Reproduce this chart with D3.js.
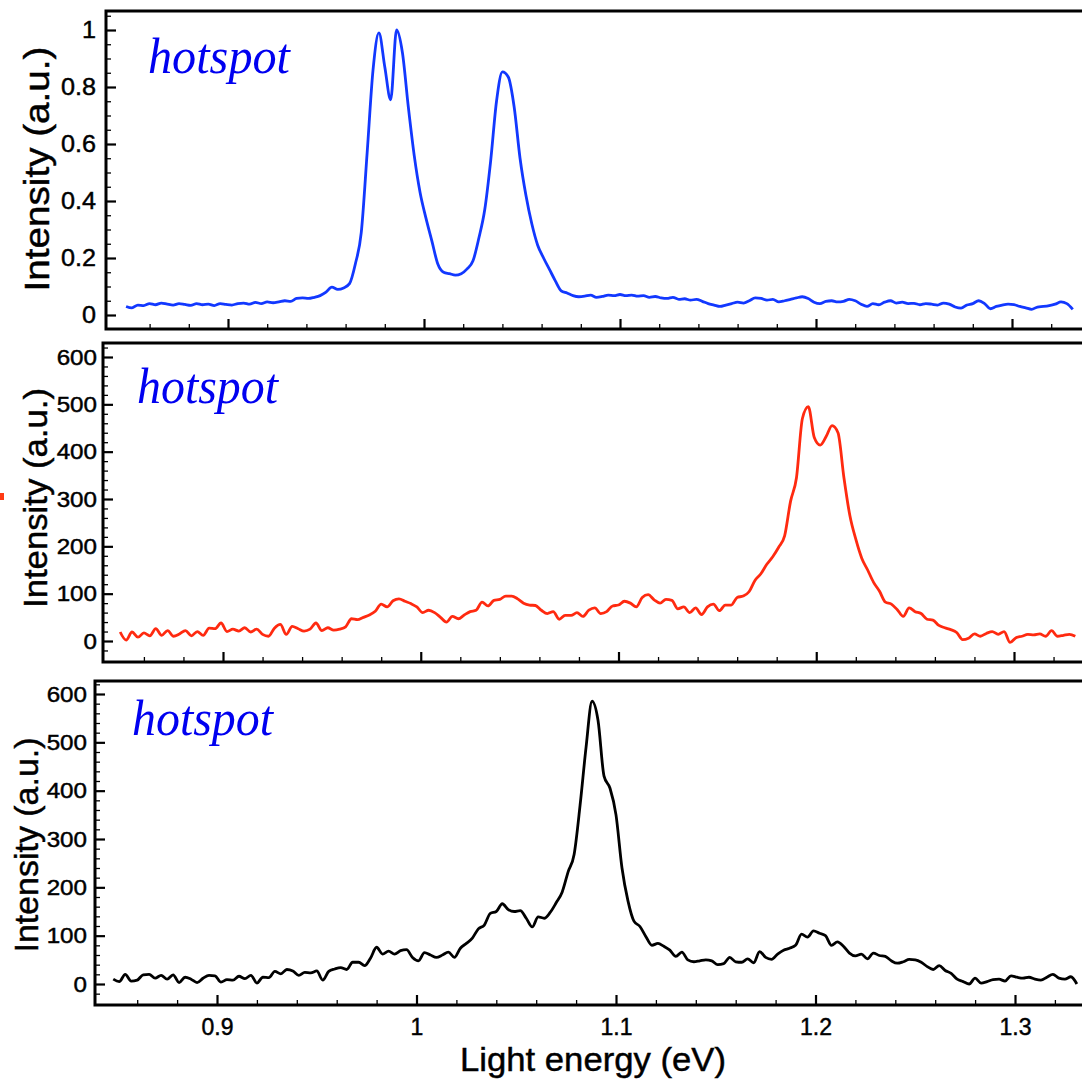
<!DOCTYPE html>
<html><head><meta charset="utf-8">
<script src="https://cdn.jsdelivr.net/npm/d3@7"></script>
<style>
body{margin:0;background:#fff}
svg{display:block}
text{font-family:"Liberation Sans",Arial,Helvetica,sans-serif;fill:#000}
</style>
</head><body>
<svg id="chart" width="1082" height="1080"></svg>
<script>
// ---------- DATA ----------
const energy = [
0.848,0.851,0.854,0.857,0.860,0.863,0.866,0.869,0.872,0.875,
0.878,0.881,0.884,0.887,0.890,0.893,0.896,0.899,0.902,0.905,
0.908,0.911,0.914,0.917,0.920,0.923,0.926,0.929,0.932,0.935,
0.938,0.941,0.944,0.947,0.950,0.953,0.956,0.959,0.962,0.965,
0.968,0.971,0.974,0.977,0.980,0.983,0.986,0.989,0.992,0.995,
0.998,1.001,1.004,1.007,1.010,1.013,1.016,1.019,1.022,1.025,
1.028,1.031,1.034,1.037,1.040,1.043,1.046,1.049,1.052,1.055,
1.058,1.061,1.064,1.067,1.070,1.073,1.076,1.079,1.082,1.085,
1.088,1.091,1.094,1.097,1.100,1.103,1.106,1.109,1.112,1.115,
1.118,1.121,1.124,1.127,1.130,1.133,1.136,1.139,1.142,1.145,
1.148,1.151,1.154,1.157,1.160,1.163,1.166,1.169,1.172,1.175,
1.178,1.181,1.184,1.187,1.190,1.193,1.196,1.199,1.202,1.205,
1.208,1.211,1.214,1.217,1.220,1.223,1.226,1.229,1.232,1.235,
1.238,1.241,1.244,1.247,1.250,1.253,1.256,1.259,1.262,1.265,
1.268,1.271,1.274,1.277,1.280,1.283,1.286,1.289,1.292,1.295,
1.298,1.301,1.304,1.307,1.310,1.313,1.316,1.319,1.322,1.325,
1.328,1.331];

// top panel (normalised)
const blueHotspot = [
0.030,0.025,0.035,0.033,0.040,0.036,0.042,0.038,0.035,0.040,
0.037,0.034,0.040,0.036,0.038,0.033,0.040,0.037,0.035,0.040,
0.042,0.038,0.044,0.040,0.046,0.043,0.046,0.050,0.048,0.058,
0.060,0.058,0.062,0.068,0.080,0.098,0.090,0.095,0.110,0.180,
0.290,0.570,0.860,0.990,0.870,0.755,1.000,0.920,0.730,0.560,
0.430,0.340,0.260,0.180,0.150,0.145,0.140,0.145,0.162,0.190,
0.270,0.370,0.540,0.750,0.853,0.835,0.730,0.550,0.420,0.320,
0.245,0.200,0.160,0.120,0.085,0.077,0.068,0.064,0.066,0.070,
0.062,0.065,0.070,0.068,0.072,0.068,0.070,0.066,0.068,0.062,
0.065,0.060,0.058,0.062,0.055,0.057,0.052,0.055,0.048,0.040,
0.035,0.030,0.035,0.040,0.045,0.042,0.050,0.060,0.058,0.052,
0.055,0.046,0.050,0.055,0.060,0.064,0.058,0.045,0.040,0.048,
0.050,0.046,0.048,0.055,0.050,0.038,0.030,0.040,0.036,0.045,
0.050,0.042,0.045,0.040,0.041,0.036,0.040,0.038,0.035,0.042,
0.038,0.028,0.024,0.035,0.040,0.050,0.040,0.022,0.030,0.035,
0.038,0.036,0.030,0.025,0.020,0.028,0.030,0.033,0.038,0.046,
0.040,0.020];

// middle panel (counts)
const redHotspot = [
19,2,19,8,17,11,26,12,22,10,
15,22,11,20,12,27,26,38,20,25,
21,28,19,25,14,10,27,35,14,31,
26,21,25,38,22,28,23,25,30,47,
45,50,55,63,78,72,85,89,84,79,
72,60,65,60,50,40,52,47,55,62,
65,82,74,86,88,95,95,89,80,76,
75,65,58,62,46,54,54,60,52,65,
70,58,62,74,76,84,80,72,92,98,
87,80,88,86,68,72,60,70,56,72,
78,64,76,76,92,95,104,128,142,162,
178,198,222,295,345,470,495,430,414,432,
455,440,345,265,215,175,150,124,105,82,
78,66,52,70,62,58,46,44,33,28,
24,18,3,6,15,10,16,20,14,20,
-3,7,10,14,13,15,10,22,10,12,
14,10];

// bottom panel (counts)
const blackHotspot = [
10,5,20,6,8,19,20,12,18,10,
19,3,14,10,3,12,18,17,4,9,
8,16,11,18,2,14,13,26,21,30,
27,18,24,23,27,8,26,31,34,30,
45,45,38,54,76,62,68,62,69,71,
55,48,65,60,55,60,66,55,74,84,
95,114,122,146,150,166,154,150,152,136,
118,139,136,148,168,190,232,268,370,490,
585,545,430,405,350,240,172,130,119,98,
80,84,78,70,57,66,50,46,48,50,
48,40,42,55,46,45,52,44,67,55,
51,62,70,74,80,103,97,110,105,100,
80,87,78,64,58,62,52,64,59,57,
48,43,46,51,50,45,36,30,38,28,
22,10,5,0,12,2,5,9,10,6,
17,14,12,14,10,8,14,20,12,10,
15,0];

// ticks and labels
const xMajorTicks = [0.9, 1.0, 1.1, 1.2, 1.3];
const xMajorLabels = ["0.9", "1", "1.1", "1.2", "1.3"];
const xMinorTicks = [0.86,0.88,0.92,0.94,0.96,0.98,1.02,1.04,1.06,1.08,1.12,1.14,1.16,1.18,1.22,1.24,1.26,1.28,1.32];
const topYTicks = [0, 0.2, 0.4, 0.6, 0.8, 1];
const topYLabels = ["0", "0.2", "0.4", "0.6", "0.8", "1"];
const topYMinor = [0.05,0.1,0.15,0.25,0.3,0.35,0.45,0.5,0.55,0.65,0.7,0.75,0.85,0.9,0.95,1.05];
const countYTicks = [0, 100, 200, 300, 400, 500, 600];
const countYLabels = ["0", "100", "200", "300", "400", "500", "600"];
const countYMinor = [-20,20,40,60,80,120,140,160,180,220,240,260,280,320,340,360,380,420,440,460,480,520,540,560,580,620];
const panelLabel = "hotspot";
const yTitle = "Intensity (a.u.)";
const xTitle = "Light energy (eV)";

// ---------- LAYOUT ----------
const panels = [
  {vals: blueHotspot, color: "#1238ff", left: 106, top: 11, bottom: 329, x09: 228, x13: 1012,
   yDom: [0, 1], yRng: [315, 30], majors: topYTicks, labels: topYLabels, minors: topYMinor,
   lfont: 24, lscale: 1.05, lgap: 10,
   title: {x: 49, cy: 169, len: 245, size: 35}, hot: {x: 148, y: 73, len: 142}},
  {vals: redHotspot, color: "#ff2a10", left: 103, top: 343, bottom: 662, x09: 223, x13: 1014,
   yDom: [0, 600], yRng: [641, 357], majors: countYTicks, labels: countYLabels, minors: countYMinor,
   lfont: 22, lscale: 1.1, lgap: 6,
   title: {x: 47, cy: 498, len: 220, size: 34}, hot: {x: 137, y: 403, len: 141}},
  {vals: blackHotspot, color: "#000000", left: 95, top: 681, bottom: 1005, x09: 217, x13: 1015,
   yDom: [0, 600], yRng: [984, 694], majors: countYTicks, labels: countYLabels, minors: countYMinor,
   lfont: 22, lscale: 1.1, lgap: 8,
   title: {x: 38, cy: 845, len: 215, size: 34}, hot: {x: 132, y: 735, len: 141}, xlabels: true}
];
const RIGHT = 1090;
const TEXT_STROKE = 0.45;

const svg = d3.select("#chart");
const defs = svg.append("defs");

panels.forEach((p, i) => {
  const x = d3.scaleLinear().domain([0.9, 1.3]).range([p.x09, p.x13]);
  const y = d3.scaleLinear().domain(p.yDom).range(p.yRng);
  const g = svg.append("g");

  defs.append("clipPath").attr("id", "clip" + i)
    .append("rect").attr("x", p.left).attr("y", p.top)
    .attr("width", RIGHT - p.left).attr("height", p.bottom - p.top);

  // curve
  const line = d3.line().x((d, k) => x(energy[k])).y(d => y(d)).curve(d3.curveMonotoneX);
  g.append("path").datum(p.vals)
    .attr("clip-path", "url(#clip" + i + ")")
    .attr("fill", "none").attr("stroke", p.color)
    .attr("stroke-width", 2.8).attr("stroke-linejoin", "round")
    .attr("d", line);

  // x axis: minor ticks
  const xMinorAxis = d3.axisBottom(x).tickValues(xMinorTicks).tickSizeInner(-5).tickSizeOuter(0).tickFormat("");
  const gxm = g.append("g").attr("transform", `translate(0,${p.bottom})`).call(xMinorAxis);
  gxm.select(".domain").remove();
  gxm.selectAll("line").attr("stroke", "#000").attr("stroke-width", 1.3);

  // x axis: major ticks
  const xMajorAxis = d3.axisBottom(x).tickValues(xMajorTicks).tickSizeInner(-10).tickSizeOuter(0)
    .tickPadding(14).tickFormat((d, k) => p.xlabels ? xMajorLabels[k] : "");
  const gx = g.append("g").attr("transform", `translate(0,${p.bottom})`).call(xMajorAxis);
  gx.select(".domain").remove();
  gx.selectAll("line").attr("stroke", "#000").attr("stroke-width", 2.2);
  gx.selectAll("text").attr("font-size", 23).attr("fill", "#000")
    .attr("stroke", "#000").attr("stroke-width", TEXT_STROKE);

  // y axis: minor ticks
  const yMinorAxis = d3.axisLeft(y).tickValues(p.minors).tickSizeInner(-5).tickSizeOuter(0).tickFormat("");
  const gym = g.append("g").attr("transform", `translate(${p.left},0)`).call(yMinorAxis);
  gym.select(".domain").remove();
  gym.selectAll("line").attr("stroke", "#000").attr("stroke-width", 1.3);

  // y axis: major ticks
  const yMajorAxis = d3.axisLeft(y).tickValues(p.majors).tickSizeInner(-10).tickSizeOuter(0)
    .tickPadding(p.lgap).tickFormat((d, k) => p.labels[k]);
  const gy = g.append("g").attr("transform", `translate(${p.left},0)`).call(yMajorAxis);
  gy.select(".domain").remove();
  gy.selectAll("line").attr("stroke", "#000").attr("stroke-width", 2.2);
  gy.selectAll("text").attr("font-size", p.lfont).attr("fill", "#000")
    .attr("stroke", "#000").attr("stroke-width", TEXT_STROKE)
    .attr("x", -p.lgap / p.lscale)
    .attr("transform", `scale(${p.lscale},1)`);

  // frame
  g.append("rect").attr("x", p.left).attr("y", p.top)
    .attr("width", RIGHT - p.left).attr("height", p.bottom - p.top)
    .attr("fill", "none").attr("stroke", "#000").attr("stroke-width", 3);

  // y title
  g.append("text")
    .attr("transform", `translate(${p.title.x},${p.title.cy}) rotate(-90)`)
    .attr("text-anchor", "middle")
    .attr("font-size", p.title.size)
    .attr("stroke", "#000").attr("stroke-width", TEXT_STROKE)
    .attr("textLength", p.title.len).attr("lengthAdjust", "spacingAndGlyphs")
    .text(yTitle);

  // hotspot label
  g.append("text")
    .attr("x", p.hot.x).attr("y", p.hot.y)
    .style("font-family", '"Liberation Serif","DejaVu Serif",serif')
    .style("font-style", "italic")
    .style("fill", "#0000f0")
    .attr("font-size", 50)
    .attr("textLength", p.hot.len).attr("lengthAdjust", "spacingAndGlyphs")
    .text(panelLabel);
});

// x title
svg.append("text")
  .attr("x", 593).attr("y", 1071)
  .attr("text-anchor", "middle")
  .attr("font-size", 33)
  .attr("stroke", "#000").attr("stroke-width", TEXT_STROKE)
  .attr("textLength", 266).attr("lengthAdjust", "spacingAndGlyphs")
  .text(xTitle);

// small red mark at left edge
svg.append("rect").attr("x", 0).attr("y", 493).attr("width", 4).attr("height", 7).attr("fill", "#ff3a14");
</script>
</body></html>
